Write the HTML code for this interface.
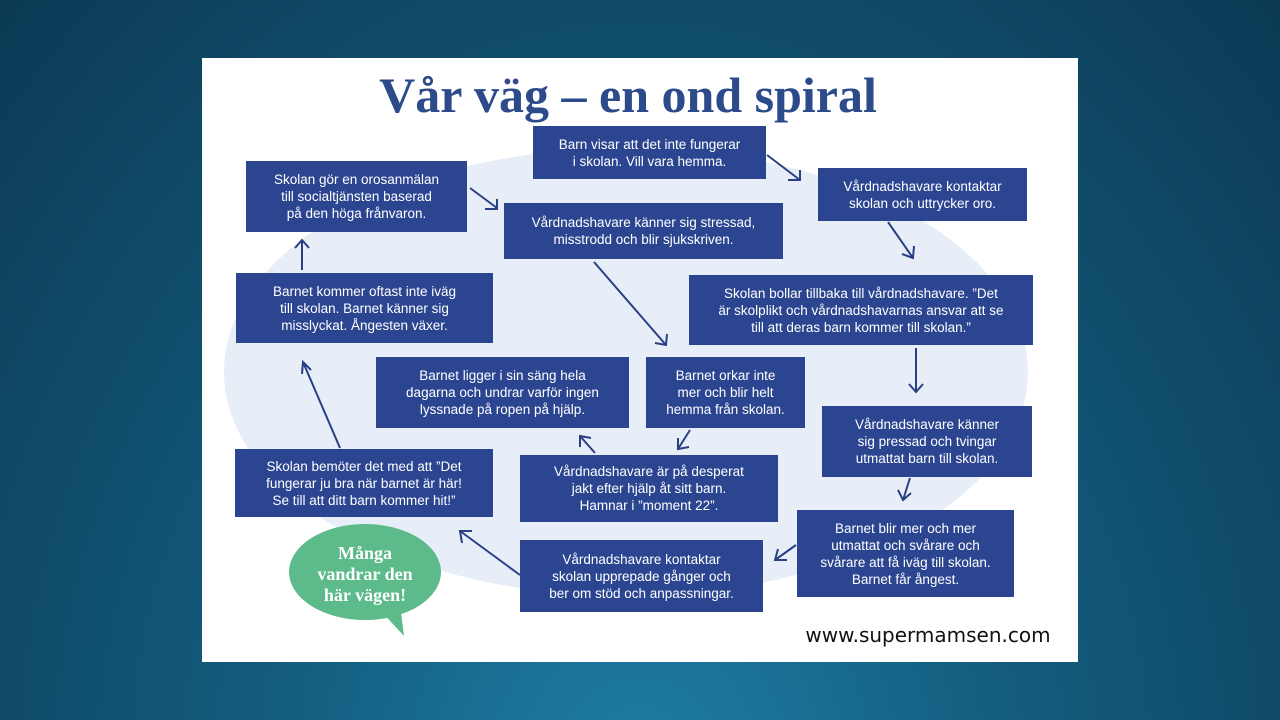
<!DOCTYPE html>
<html><head><meta charset="utf-8"><style>
body{margin:0;width:1280px;height:720px;overflow:hidden;background:radial-gradient(ellipse at 50% 110%,#1f7fa5 0%,#135d7f 40%,#0c3a54 100%);font-family:"Liberation Sans",sans-serif;position:relative}
.panel{position:absolute;left:202px;top:58px;width:876px;height:604px;background:#fff;overflow:hidden}
.b{position:absolute;background:#2b4590;color:#fff;font-size:13.5px;line-height:17px;text-align:center;display:flex;align-items:center;justify-content:center;box-sizing:border-box;padding:0 6px}
h1{position:absolute;left:-12px;width:100%;top:70px;margin:0;text-align:center;font-family:"Liberation Serif",serif;font-weight:bold;font-size:50px;color:#2d4a8a;line-height:50px}
svg{position:absolute;left:0;top:0}
</style></head><body>
<div class="panel"></div>
<svg width="1280" height="720">
<ellipse cx="626" cy="372" rx="402" ry="224" fill="#e7eef8"/>
<g stroke="#2b3f85" stroke-width="2" fill="none">
<path d="M767 155L800 180M788 180h12v-10"/>
<path d="M470 188L497 208M485 209h12v-10"/>
<path d="M888 222L913 258M902 254l11 4 1-12"/>
<path d="M302 270V240M295 248l7-8 7 8"/>
<path d="M594 262L666 345M655 343l11 2 1-11"/>
<path d="M916 348V392M909 384l7 8 7-8"/>
<path d="M340 448L303 362M302 374l1-12 8 8"/>
<path d="M910 478L903 500M898 490l5 10 8-7"/>
<path d="M796 545L775 560M787 560h-12l3-11"/>
<path d="M690 430L678 449M678 438v11l11-2"/>
<path d="M595 453L580 436M580 447l0-11 11 2"/>
<path d="M520 575L460 531M462 543l-2-12 12 0"/>
</g>
<ellipse cx="365" cy="572" rx="76" ry="48" fill="#5dba8a"/>
<path d="M380 610L404 636L400 605Z" fill="#5dba8a"/>
<text x="365" y="559" text-anchor="middle" font-family="Liberation Serif,serif" font-weight="bold" font-size="18" fill="#fff">Många</text>
<text x="365" y="580" text-anchor="middle" font-family="Liberation Serif,serif" font-weight="bold" font-size="18" fill="#fff">vandrar den</text>
<text x="365" y="601" text-anchor="middle" font-family="Liberation Serif,serif" font-weight="bold" font-size="18" fill="#fff">här vägen!</text>
<text x="928" y="642" text-anchor="middle" font-family="DejaVu Sans,sans-serif" font-size="20" fill="#111">www.supermamsen.com</text>
</svg>
<h1>Vår väg – en ond spiral</h1>
<div class="b" style="left:533px;top:126px;width:233px;height:53px">Barn visar att det inte fungerar<br>i skolan. Vill vara hemma.</div>
<div class="b" style="left:818px;top:168px;width:209px;height:53px">Vårdnadshavare kontaktar<br>skolan och uttrycker oro.</div>
<div class="b" style="left:246px;top:161px;width:221px;height:71px">Skolan gör en orosanmälan<br>till socialtjänsten baserad<br>på den höga frånvaron.</div>
<div class="b" style="left:504px;top:203px;width:279px;height:56px">Vårdnadshavare känner sig stressad,<br>misstrodd och blir sjukskriven.</div>
<div class="b" style="left:689px;top:275px;width:344px;height:70px">Skolan bollar tillbaka till vårdnadshavare. ”Det<br>är skolplikt och vårdnadshavarnas ansvar att se<br>till att deras barn kommer till skolan.”</div>
<div class="b" style="left:236px;top:273px;width:257px;height:70px">Barnet kommer oftast inte iväg<br>till skolan. Barnet känner sig<br>misslyckat. Ångesten växer.</div>
<div class="b" style="left:376px;top:357px;width:253px;height:71px">Barnet ligger i sin säng hela<br>dagarna och undrar varför ingen<br>lyssnade på ropen på hjälp.</div>
<div class="b" style="left:646px;top:357px;width:159px;height:71px">Barnet orkar inte<br>mer och blir helt<br>hemma från skolan.</div>
<div class="b" style="left:822px;top:406px;width:210px;height:71px">Vårdnadshavare känner<br>sig pressad och tvingar<br>utmattat barn till skolan.</div>
<div class="b" style="left:235px;top:449px;width:258px;height:68px">Skolan bemöter det med att ”Det<br>fungerar ju bra när barnet är här!<br>Se till att ditt barn kommer hit!”</div>
<div class="b" style="left:520px;top:455px;width:258px;height:67px">Vårdnadshavare är på desperat<br>jakt efter hjälp åt sitt barn.<br>Hamnar i ”moment 22”.</div>
<div class="b" style="left:797px;top:510px;width:217px;height:87px">Barnet blir mer och mer<br>utmattat och svårare och<br>svårare att få iväg till skolan.<br>Barnet får ångest.</div>
<div class="b" style="left:520px;top:540px;width:243px;height:72px">Vårdnadshavare kontaktar<br>skolan upprepade gånger och<br>ber om stöd och anpassningar.</div>
</body></html>
